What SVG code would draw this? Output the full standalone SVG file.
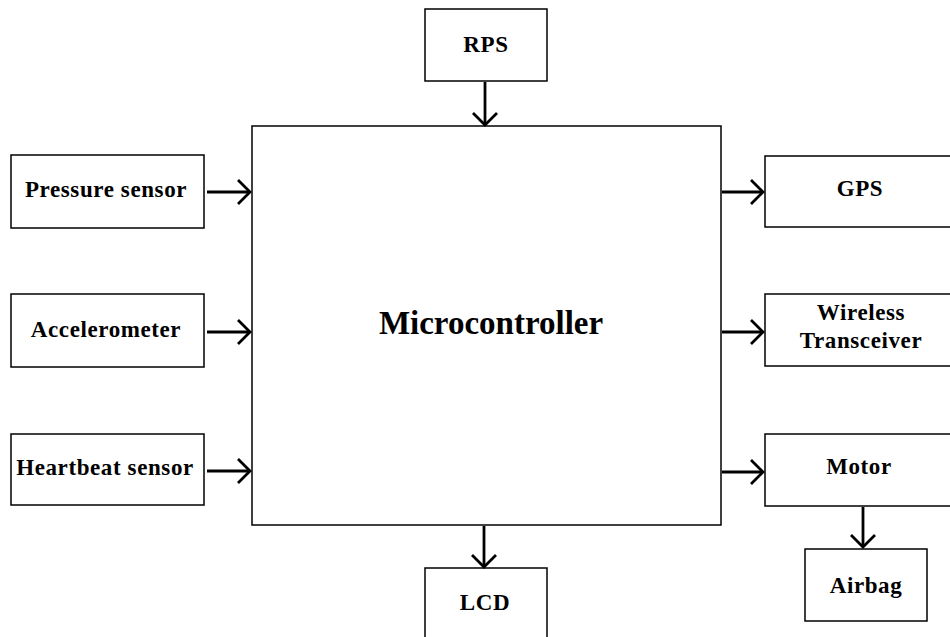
<svg xmlns="http://www.w3.org/2000/svg" width="950" height="637" viewBox="0 0 950 637">
  <style>
    .box { fill: #ffffff; stroke: #000000; stroke-width: 1.5; }
    .label { font-family: "Liberation Serif", "Times New Roman", serif; font-weight: bold; font-size: 23px; letter-spacing: 0.6px; fill: #000000; text-anchor: middle; }
    .title { font-size: 33px; letter-spacing: 0; }
    .wire { stroke: #000000; stroke-width: 2.8; fill: none; marker-end: url(#chevron); }
  </style>
  <defs>
    <marker id="chevron" markerUnits="userSpaceOnUse" viewBox="-14 -14 16 28" refX="0" refY="0" markerWidth="16" markerHeight="28" orient="auto">
      <path d="M-12,-12 L0,0 L-12,12" fill="none" stroke="#000000" stroke-width="2.8"/>
    </marker>
  </defs>
  <rect width="950" height="637" fill="#ffffff"/>

  <g id="microcontroller">
    <rect class="box" x="252" y="126" width="469" height="399"/>
    <text class="label title" x="491" y="334">Microcontroller</text>
  </g>
  <g id="rps">
    <rect class="box" x="425" y="9" width="122" height="72"/>
    <text class="label" x="486" y="52">RPS</text>
  </g>
  <g id="pressure-sensor">
    <rect class="box" x="11" y="155" width="193" height="73"/>
    <text class="label" x="106" y="197">Pressure sensor</text>
  </g>
  <g id="accelerometer">
    <rect class="box" x="11" y="294" width="193" height="73"/>
    <text class="label" x="106" y="337">Accelerometer</text>
  </g>
  <g id="heartbeat-sensor">
    <rect class="box" x="11" y="434" width="193" height="71"/>
    <text class="label" x="105" y="475">Heartbeat sensor</text>
  </g>
  <g id="gps">
    <rect class="box" x="765" y="156" width="192" height="71"/>
    <text class="label" x="860" y="196">GPS</text>
  </g>
  <g id="wireless-transceiver">
    <rect class="box" x="765" y="294" width="192" height="72"/>
    <text class="label" x="861" y="320">Wireless</text>
    <text class="label" x="861" y="348">Transceiver</text>
  </g>
  <g id="motor">
    <rect class="box" x="765" y="434" width="192" height="72"/>
    <text class="label" x="859" y="474">Motor</text>
  </g>
  <g id="airbag">
    <rect class="box" x="805" y="549" width="122" height="72"/>
    <text class="label" x="866" y="593">Airbag</text>
  </g>
  <g id="lcd">
    <rect class="box" x="425" y="568" width="122" height="72"/>
    <text class="label" x="485" y="610">LCD</text>
  </g>

  <g id="connectors">
    <line class="wire" x1="207" y1="192" x2="250" y2="192"/>
    <line class="wire" x1="207" y1="332" x2="250" y2="332"/>
    <line class="wire" x1="207" y1="471" x2="250" y2="471"/>
    <line class="wire" x1="485" y1="82" x2="485" y2="125"/>
    <line class="wire" x1="722" y1="192" x2="763" y2="192"/>
    <line class="wire" x1="722" y1="332" x2="763" y2="332"/>
    <line class="wire" x1="722" y1="472" x2="763" y2="472"/>
    <line class="wire" x1="484" y1="526" x2="484" y2="567"/>
    <line class="wire" x1="863" y1="507" x2="863" y2="547"/>
  </g>
</svg>
